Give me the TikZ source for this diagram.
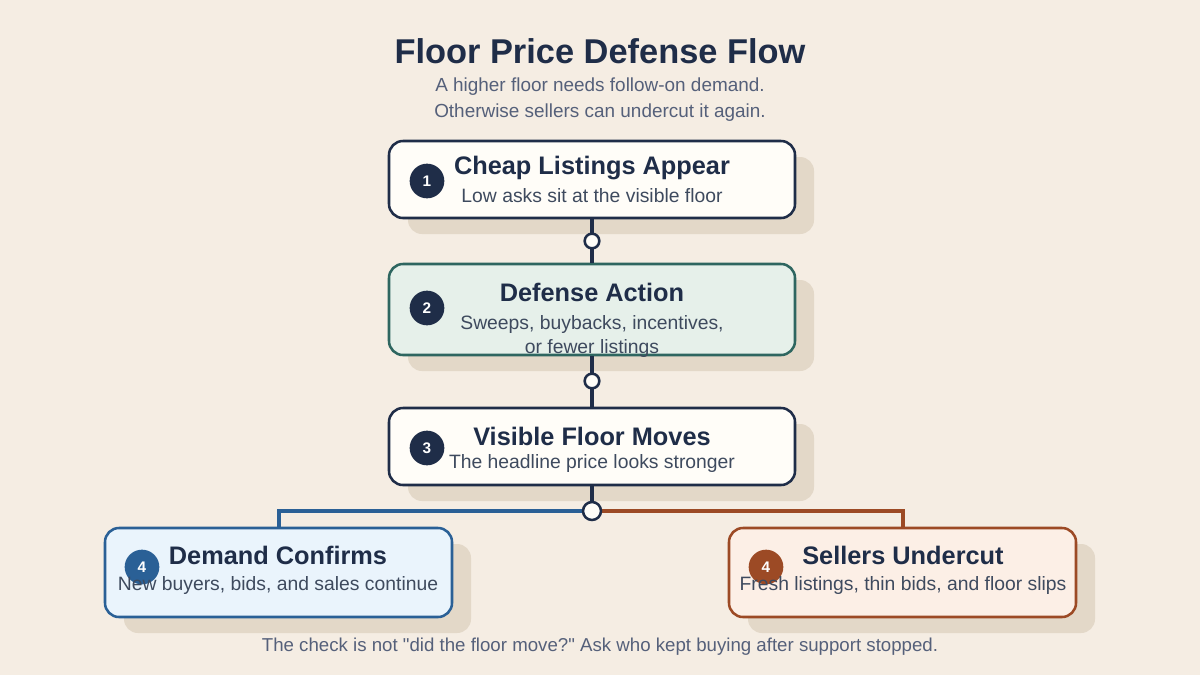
\documentclass[tikz,border=0pt]{standalone}
\usepackage{fontspec}
\setmainfont{Liberation Sans}
\newfontfamily\footfont{Liberation Sans}[Ligatures=TeXOff]
\usetikzlibrary{positioning}
\definecolor{bg}{HTML}{F5EDE3}
\definecolor{shade}{HTML}{E3D8C8}
\definecolor{navy}{HTML}{1F2D48}
\definecolor{paper}{HTML}{FFFDF8}
\definecolor{tealfill}{HTML}{E6F0EA}
\definecolor{tealline}{HTML}{2E6660}
\definecolor{blueline}{HTML}{2A6096}
\definecolor{bluefill}{HTML}{EAF4FC}
\definecolor{orline}{HTML}{9C4A25}
\definecolor{orfill}{HTML}{FCEFE6}
\definecolor{subgray}{HTML}{55607A}
\definecolor{bodygray}{HTML}{3E4A5E}
\tikzset{
  boxbase/.style={rounded corners=10.5pt, line width=1.9pt, inner sep=0pt},
  wide/.style={minimum width=304.5pt},
  narrow/.style={minimum width=260.25pt},
  shadowbox/.style={boxbase, fill=shade, draw=none},
  plainbox/.style={boxbase, draw=navy, fill=paper},
  tealbox/.style={boxbase, draw=tealline, fill=tealfill},
  bluebox/.style={boxbase, draw=blueline, fill=bluefill},
  orbox/.style={boxbase, draw=orline, fill=orfill},
  badge/.style={circle, minimum size=26pt, inner sep=0pt, text=white, font=\fontsize{11.5}{13}\selectfont\bfseries},
  dot/.style={circle, draw=navy, fill=paper, line width=1.9pt, minimum size=11pt, inner sep=0pt},
  bigdot/.style={circle, draw=navy, fill=paper, line width=1.9pt, minimum size=13.5pt, inner sep=0pt},
  conn/.style={draw=navy, line width=3.6pt},
  ttl/.style={text=navy, font=\fontsize{19}{22}\selectfont\bfseries},
  sub/.style={text=bodygray, font=\fontsize{14.5}{18}\selectfont, align=center},
}
\begin{document}
\begin{tikzpicture}[x=0.75pt,y=-0.75pt]
\fill[bg] (0,0) rectangle (1200,675);
\useasboundingbox (0,0) rectangle (1200,675);

% heading
\node[text=navy, font=\fontsize{25.8}{30}\selectfont\bfseries] (title) at (600,51) {Floor Price Defense Flow};
\node[text=subgray, font=\fontsize{14.2}{16}\selectfont] (st1) at (600,87) {A higher floor needs follow-on demand.};
\node[text=subgray, font=\fontsize{14.2}{16}\selectfont] (st2) at (600,113) {Otherwise sellers can undercut it again.};

% shadows
\node[shadowbox, wide, minimum height=57.75pt] (s1) at (611,195.5) {};
\node[shadowbox, wide, minimum height=68.25pt] (s2) at (611,325.5) {};
\node[shadowbox, wide, minimum height=57.75pt] (s3) at (611,462.5) {};
\node[shadowbox, narrow, minimum height=66.75pt] (s4) at (297.5,588.5) {};
\node[shadowbox, narrow, minimum height=66.75pt] (s5) at (921.5,588.5) {};

% boxes
\node[plainbox, wide, minimum height=57.75pt] (b1) at (592,179.5) {};
\node[tealbox, wide, minimum height=68.25pt] (b2) at (592,309.5) {};
\node[plainbox, wide, minimum height=57.75pt] (b3) at (592,446.5) {};
\node[bluebox, narrow, minimum height=66.75pt] (b4) at (278.5,572.5) {};
\node[orbox, narrow, minimum height=66.75pt] (b5) at (902.5,572.5) {};

% connectors
\coordinate (c1) at (592,241);
\coordinate (c2) at (592,381);
\coordinate (cj) at (592,511);
\draw[conn] (b1.south) -- (c1) -- (b2.north);
\draw[conn] (b2.south) -- (c2) -- (b3.north);
\draw[conn] (b3.south) -- (cj);
\draw[draw=blueline, line width=3pt] (cj) -| (b4.north);
\draw[draw=orline, line width=3pt] (cj) -| (b5.north);
\node[dot] (d1) at (c1) {};
\node[dot] (d2) at (c2) {};
\node[bigdot] (dj) at (cj) {};

% badges
\node[badge, fill=navy] (n1) at (427,181) {1};
\node[badge, fill=navy] (n2) at (427,308) {2};
\node[badge, fill=navy] (n3) at (427,448) {3};
\node[badge, fill=blueline] (n4) at (142,567) {4};
\node[badge, fill=orline] (n5) at (766,567) {4};

% texts
\node[ttl] (t1) at (592,168) {Cheap Listings Appear};
\node[sub] (u1) at (592,196) {Low asks sit at the visible floor};
\node[ttl] (t2) at (592,292) {Defense Action};
\node[sub] (u2) at (592,336) {Sweeps, buybacks, incentives,\\or fewer listings};
\node[ttl] (t3) at (592,436) {Visible Floor Moves};
\node[sub] (u3) at (592,463) {The headline price looks stronger};
\node[ttl] (t4) at (278,555) {Demand Confirms};
\node[sub] (u4) at (278,585) {New buyers, bids, and sales continue};
\node[ttl] (t5) at (903,555) {Sellers Undercut};
\node[sub] (u5) at (903,585) {Fresh listings, thin bids, and floor slips};

\node[text=subgray, font=\footfont\fontsize{14}{16}\selectfont] (foot) at (600,647) {The check is not "did the floor move?" Ask who kept buying after support stopped.};
\end{tikzpicture}
\end{document}
